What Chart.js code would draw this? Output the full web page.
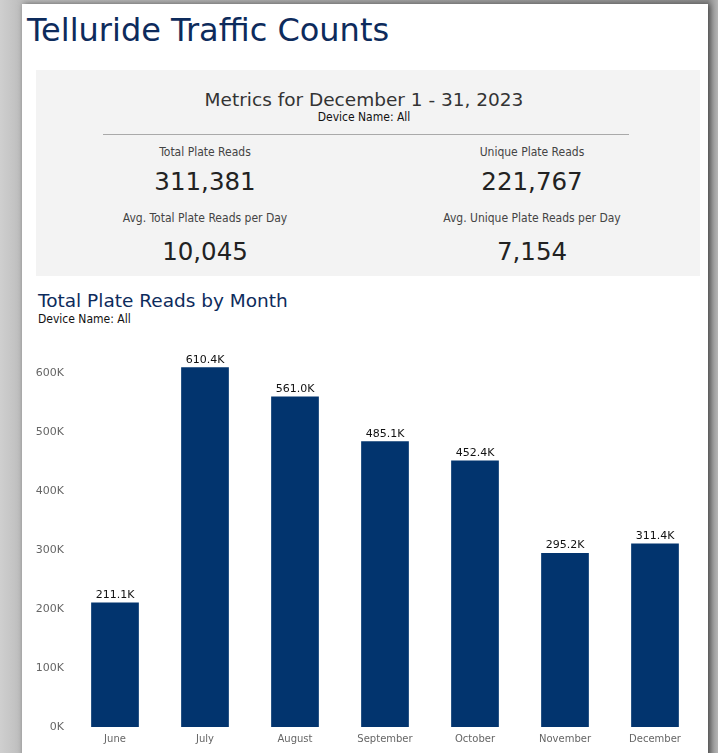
<!DOCTYPE html>
<html>
<head>
<meta charset="utf-8">
<script src="https://cdn.jsdelivr.net/npm/chart.js@4.4.0/dist/chart.umd.min.js"></script>
<style>
  body { margin: 0; width: 718px; height: 753px; overflow: hidden; background: linear-gradient(90deg, #cfcfcf 0, #bdbdbd 22px, #8f8f8f 708px, #b5b5b5 718px); font-family: "DejaVu Sans", Verdana, sans-serif; }
  .page { position: absolute; left: 22px; top: 4px; width: 686px; height: 760px; background: #fff; box-shadow: 2px 0 6px rgba(0,0,0,0.5); }
  .title { position: absolute; left: 5px; top: 7px; font-size: 32px; color: #0d2b5c; }
  .metrics { position: absolute; left: 14px; top: 66px; width: 664px; height: 206px; background: #f3f3f3; }
  .center { position: absolute; text-align: center; transform: translateX(-50%); white-space: nowrap; }
  .mhead { font-size: 18.5px; color: #333; }
  .small { font-size: 12px; color: #111; font-family: "DejaVu Sans Condensed", "DejaVu Sans", sans-serif; }
  .rule { position: absolute; left: 67px; top: 64px; width: 526px; height: 1px; background: #a9a9a9; }
  .lbl { font-size: 12px; color: #444; font-family: "DejaVu Sans Condensed", "DejaVu Sans", sans-serif; }
  .num { font-size: 24.5px; color: #222; }
  .sub { position: absolute; left: 16px; top: 286px; font-size: 18.5px; color: #0d2b5c; }
  .subdev { position: absolute; left: 16px; top: 308px; }
  #wrap { position: absolute; left: 0; top: 330px; width: 708px; height: 423px; }
</style>
</head>
<body>
<div class="page">
  <div class="title">Telluride Traffic Counts</div>
  <div class="metrics">
    <div class="center mhead" style="left:328px; top:19px;">Metrics for December 1 - 31, 2023</div>
    <div class="center small" style="left:328px; top:40px;">Device Name: All</div>
    <div class="rule"></div>
    <div class="center lbl" style="left:169px; top:75px;">Total Plate Reads</div>
    <div class="center num" style="left:169px; top:97px;">311,381</div>
    <div class="center lbl" style="left:169px; top:141px;">Avg. Total Plate Reads per Day</div>
    <div class="center num" style="left:169px; top:167px;">10,045</div>
    <div class="center lbl" style="left:496px; top:75px;">Unique Plate Reads</div>
    <div class="center num" style="left:496px; top:97px;">221,767</div>
    <div class="center lbl" style="left:496px; top:141px;">Avg. Unique Plate Reads per Day</div>
    <div class="center num" style="left:496px; top:167px;">7,154</div>
  </div>
  <div class="sub">Total Plate Reads by Month</div>
  <div class="subdev small">Device Name: All</div>
</div>
<div id="wrap"><canvas id="monthChart"></canvas></div>
<script>
const months = ["June", "July", "August", "September", "October", "November", "December"];
const plateReads = [211100, 610400, 561000, 485100, 452400, 295200, 311400];
const yTicks = [0, 100000, 200000, 300000, 400000, 500000, 600000];

const fmtK = v => (v / 1000).toFixed(1) + "K";

// value labels above each bar
const barLabels = {
  id: "barLabels",
  afterDatasetsDraw(chart) {
    const c = chart.ctx;
    const meta = chart.getDatasetMeta(0);
    c.save();
    c.font = "11px 'DejaVu Sans'";
    c.fillStyle = "#111";
    c.textAlign = "center";
    c.textBaseline = "bottom";
    meta.data.forEach((bar, i) => {
      c.fillText(fmtK(plateReads[i]), bar.x, bar.y - 2);
    });
    c.restore();
  }
};

const ctx = document.getElementById("monthChart").getContext("2d");
const monthChart = new Chart(ctx, {
  type: "bar",
  data: {
    labels: months,
    datasets: [{
      label: "Total Plate Reads",
      data: plateReads,
      backgroundColor: "#02346e",
      categoryPercentage: 1,
      barPercentage: 0.53,
    }],
  },
  options: {
    responsive: true,
    maintainAspectRatio: false,
    animation: false,
    layout: { padding: { top: 14, right: 8, bottom: 2, left: 0 } },
    plugins: { legend: { display: false }, tooltip: { enabled: false } },
    scales: {
      x: {
        grid: { display: false, drawTicks: false },
        border: { display: false },
        ticks: { color: "#666", font: { size: 10, family: "'DejaVu Sans'" }, padding: 6, maxRotation: 0 },
      },
      y: {
        min: 0,
        max: 650000,
        afterFit(scale) { scale.width = 70; },
        afterBuildTicks(scale) { scale.ticks = yTicks.map(v => ({ value: v })); },
        grid: { display: false, drawTicks: false },
        border: { display: false },
        ticks: {
          color: "#666",
          font: { size: 11, family: "'DejaVu Sans'" },
          padding: 6,
          callback: v => (v / 1000) + "K",
        },
      },
    },
  },
  plugins: [barLabels],
});
</script>
</body>
</html>
